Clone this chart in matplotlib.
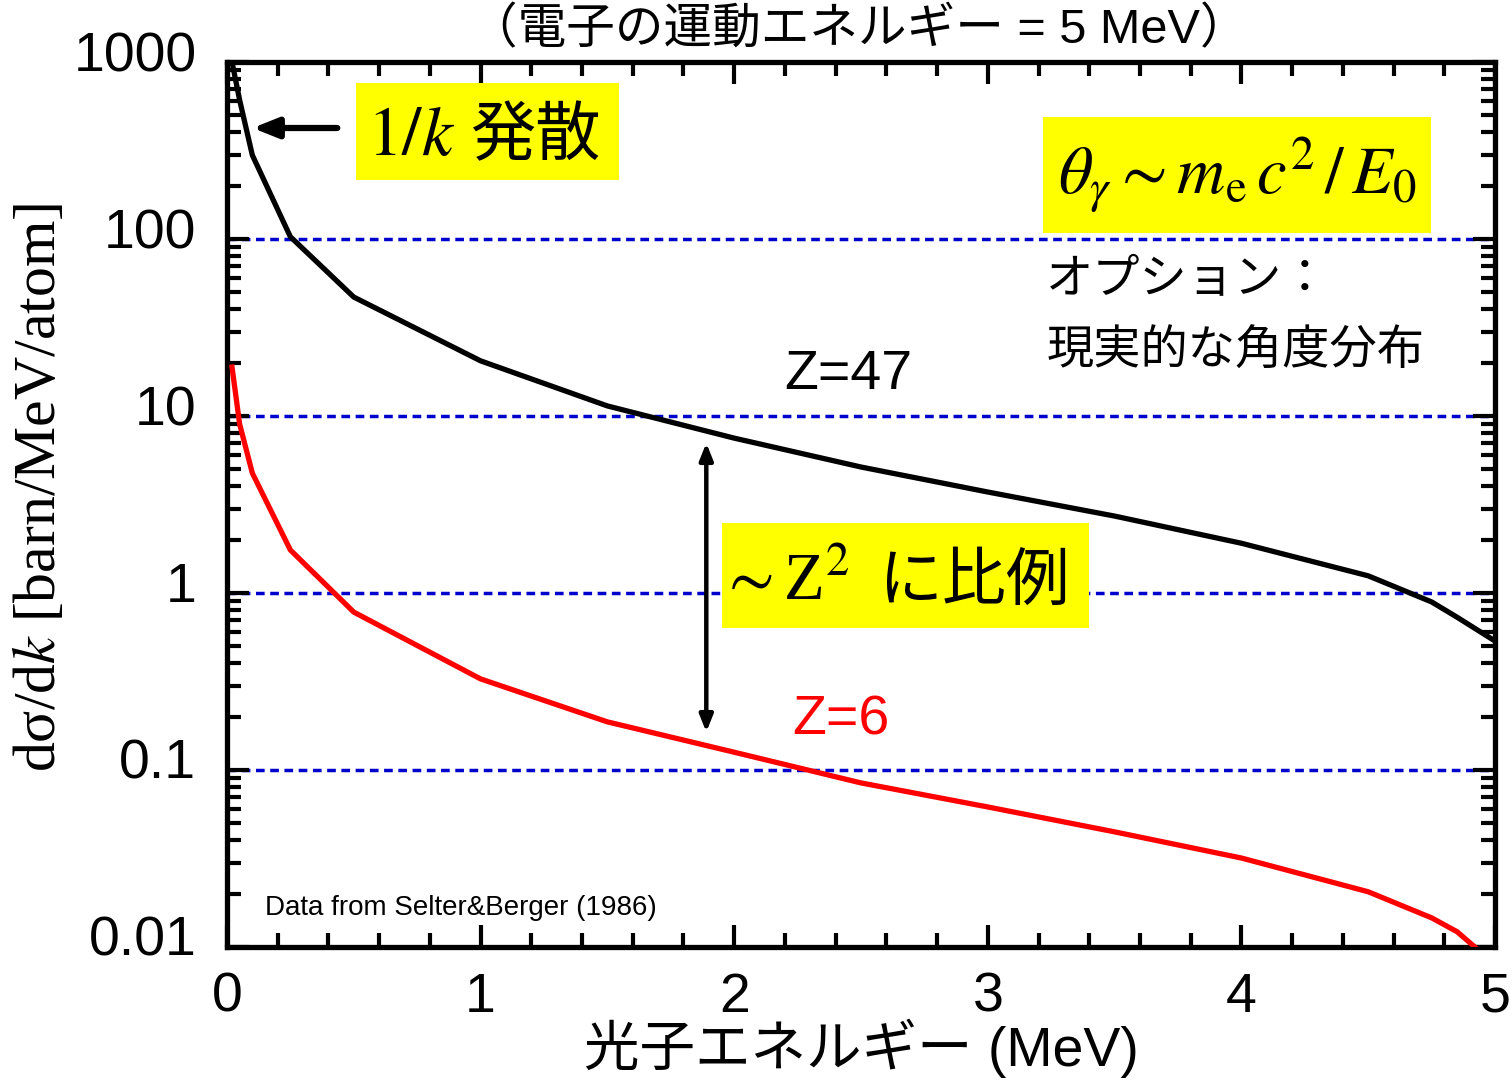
import numpy as np
import matplotlib
matplotlib.use("Agg")
import matplotlib.pyplot as plt
import matplotlib.transforms as mtransforms
from matplotlib.patches import Rectangle
from matplotlib.ticker import FixedLocator, FixedFormatter, MultipleLocator, LogLocator, NullFormatter

plt.rcParams['mathtext.fontset'] = 'stix'

# photon energy (MeV) and cross sections (barn/MeV/atom)
k_z47 = [0.02, 0.05, 0.1, 0.25, 0.5, 1.0, 1.5, 2.0, 2.5, 3.0, 3.5, 4.0, 4.5, 4.75, 4.85, 5.0]
ds_z47 = [1000, 610, 298, 103, 47, 20.5, 11.4, 7.5, 5.15, 3.72, 2.72, 1.91, 1.25, 0.89, 0.73, 0.535]

k_z6 = [0.02, 0.05, 0.1, 0.25, 0.5, 1.0, 1.5, 2.0, 2.5, 3.0, 3.5, 4.0, 4.5, 4.75, 4.85, 4.92, 5.0]
ds_z6 = [18.9, 9.0, 4.76, 1.75, 0.78, 0.327, 0.187, 0.126, 0.0845, 0.0618, 0.0447, 0.0318, 0.0205, 0.0146, 0.0122, 0.0100, 0.0075]

y_ticks = [0.01, 0.1, 1, 10, 100, 1000]
y_labels = ['0.01', '0.1', '1', '10', '100', '1000']
x_ticks = [0, 1, 2, 3, 4, 5]

sans = ['Liberation Sans', 'Noto Sans CJK JP']
serif = ['Liberation Serif', 'Noto Sans CJK JP']
cjk = ['Noto Sans CJK JP']

fig = plt.figure(figsize=(15.12, 10.81), dpi=100)
ax = fig.add_axes([0.1501, 0.124, 0.8387, 0.8186])

ax.set_yscale('log')
ax.set_xlim(0, 5)
ax.set_ylim(0.01, 1000)

# blue dotted grid at each decade
for yv in y_ticks:
    ax.axhline(yv, color='#0000cc', lw=2.5, ls=(0, (2.5, 1.6)), zorder=1)

ax.plot(k_z47, ds_z47, color='black', lw=3.8, zorder=3)
ax.plot(k_z6, ds_z6, color='#ff0000', lw=3.8, zorder=3)

# axes styling
for s in ax.spines.values():
    s.set_linewidth(3.8)
ax.xaxis.set_major_locator(FixedLocator(x_ticks))
ax.xaxis.set_minor_locator(MultipleLocator(0.2))
ax.yaxis.set_major_locator(FixedLocator(y_ticks))
ax.yaxis.set_major_formatter(FixedFormatter(y_labels))
ax.yaxis.set_minor_locator(LogLocator(base=10, subs=np.arange(2, 10)))
ax.yaxis.set_minor_formatter(NullFormatter())
ax.tick_params(which='both', direction='in', top=True, right=True, width=3)
ax.tick_params(which='major', length=16)
ax.tick_params(which='minor', length=10)
ax.tick_params(axis='y', which='major', pad=22)
ax.tick_params(axis='x', which='major', pad=18)
for lab in ax.get_xticklabels() + ax.get_yticklabels():
    lab.set_fontfamily(sans)
    lab.set_fontsize(40)
# y labels sit a little above their grid lines
up = mtransforms.ScaledTranslation(0, 0.11, fig.dpi_scale_trans)
for t in ax.yaxis.get_major_ticks():
    t.label1.set_transform(t.label1.get_transform() + up)

# labels
fig.text(0.570, 0.030, '光子エネルギー (MeV)', ha='center', va='center',
         fontsize=40, family=sans)
fig.text(0.027, 0.549, 'dσ/d$k$ [barn/MeV/atom]', ha='center', va='center',
         rotation=90, fontsize=43, family=serif)
fig.text(0.568, 0.972, '（電子の運動エネルギー = 5 MeV）', ha='center', va='center',
         fontsize=35, family=sans)

def ybox(x0, y0, x1, y1):
    ax.add_patch(Rectangle((x0, y0), x1 - x0, y1 - y0, transform=ax.transAxes,
                           facecolor='#ffff00', edgecolor='none', zorder=4))

# 1/k divergence
ybox(0.1017, 0.8667, 0.309, 0.9763)
ax.text(0.1798, 0.8949, r'$1/k$', transform=ax.transAxes, ha='right', va='baseline',
        fontsize=50, zorder=5)
ax.text(0.1916, 0.8949, '発散', transform=ax.transAxes, ha='left', va='baseline',
        fontsize=47, family=cjk, zorder=5)
ax.annotate('', xy=(0.09, 424), xytext=(0.446, 424),
            arrowprops=dict(arrowstyle='-|>,head_length=1.5,head_width=0.6',
                            color='black', lw=4.5), zorder=5)

# angular distribution formula
ybox(0.6435, 0.8068, 0.9495, 0.9379)
ax.text(0.7965, 0.8723, r'$\theta_\gamma \sim m_{\rm e}\, c^{2} \,/\, E_0$', transform=ax.transAxes,
        ha='center', va='center', fontsize=48, zorder=5)
ax.text(3.23, 58.6, 'オプション：', ha='left', va='center', fontsize=34,
        family=cjk, zorder=5)
ax.text(3.23, 23, '現実的な角度分布', ha='left', va='center', fontsize=34,
        family=cjk, zorder=5)

ax.text(2.45, 17.1, 'Z=47', ha='center', va='center', fontsize=40,
        family=sans, color='black', zorder=5)
ax.text(2.42, 0.191, 'Z=6', ha='center', va='center', fontsize=40,
        family=sans, color='#ff0000', zorder=5)

# Z^2 scaling
ax.annotate('', xy=(1.89, 7.3), xytext=(1.89, 0.158),
            arrowprops=dict(arrowstyle='<|-|>,head_length=1.0,head_width=0.4',
                            color='black', lw=3.2), zorder=5)
ybox(0.3904, 0.3605, 0.6798, 0.4791)
ax.text(0.4913, 0.392, r'$\sim$Z$^2$', transform=ax.transAxes, ha='right', va='baseline',
        fontsize=48, family=['Liberation Serif'], zorder=5)
ax.text(0.5134, 0.392, 'に比例', transform=ax.transAxes, ha='left', va='baseline',
        fontsize=46, family=cjk, zorder=5)

ax.text(0.03, 0.044, 'Data from Selter&Berger (1986)', transform=ax.transAxes,
        ha='left', va='center', fontsize=20, family=sans, zorder=5)

fig.savefig('out.png', dpi=100)
